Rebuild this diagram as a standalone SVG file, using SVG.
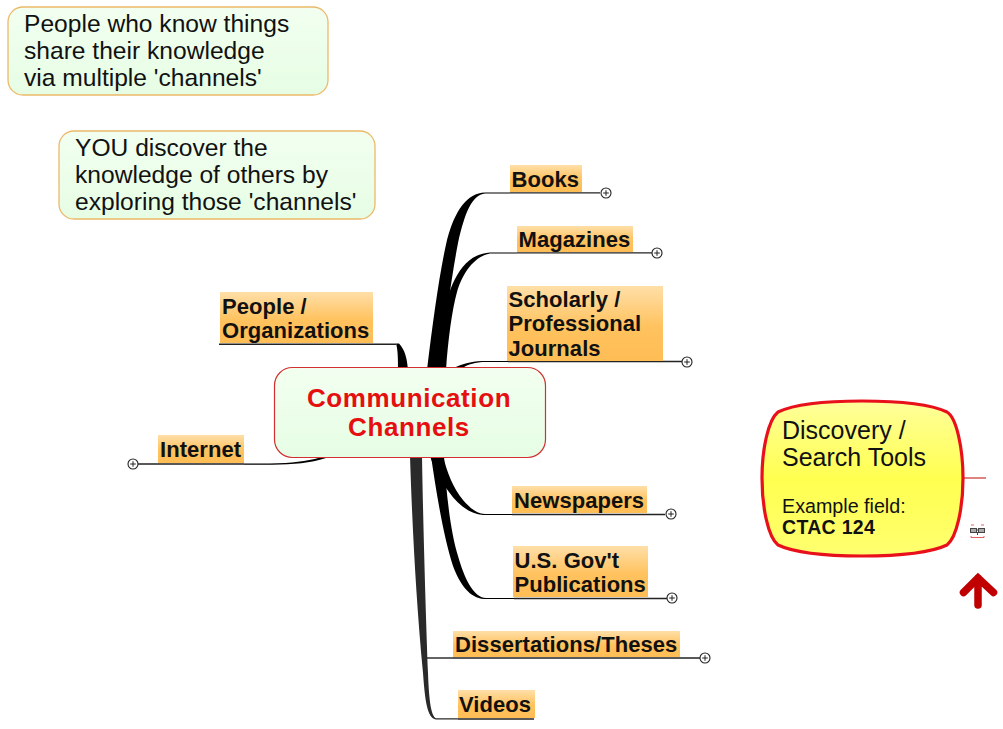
<svg xmlns="http://www.w3.org/2000/svg" width="1003" height="729" viewBox="0 0 1003 729">
<style>
text{font-family:"Liberation Sans",Arial,sans-serif;fill:#111}
.t{font-size:22px;font-weight:bold;letter-spacing:.05px}
.n{font-size:24.6px;font-weight:normal}
.c{font-size:26px;font-weight:bold;fill:#e60f0f;text-anchor:middle;letter-spacing:.6px}
.l{fill:none;stroke:#222;stroke-width:1.4}
.br{fill:#000}
.lab{fill:url(#o)}
.note{fill:url(#g);stroke:#ecb968;stroke-width:1.3}
.p circle{fill:#fff;stroke:#222;stroke-width:1.1}
.p path{stroke:#222;stroke-width:1;fill:none}
</style>
<defs>
<linearGradient id="o" x1="0" y1="0" x2="0" y2="1"><stop offset="0" stop-color="#ffdfa8"/><stop offset=".55" stop-color="#ffc25e"/><stop offset="1" stop-color="#ffbd55"/></linearGradient>
<linearGradient id="g" x1="0" y1="0" x2="0" y2="1"><stop offset="0" stop-color="#f2fff0"/><stop offset="1" stop-color="#e6fde4"/></linearGradient>
<linearGradient id="y" x1="0" y1="0" x2="0" y2="1"><stop offset="0" stop-color="#ffff9c"/><stop offset=".5" stop-color="#ffff50"/><stop offset="1" stop-color="#ffff70"/></linearGradient>
<g id="plus" class="p"><circle r="5"/><path d="M-2.800 0H2.800M0-2.800V2.800"/></g>
</defs>

<g id="connectors">
<path class="br" d="M427 370C433 320 440 270 447 240C455 210 467 193 485 192.400L510 192.400V193.500H485C472 195 465 212 458 243C452 275 445 320 442 370Z"/>
<path class="br" d="M443 317C448 290 460 254 490 252.400L517 252.400V253.500H490C475 256 463 272 457 292C452 310 448 340 446 370H440Z"/>
<path class="br" d="M454 368C462 364 470 361.500 482 361L508 361V362H482C472 363 466 365 460 370Z"/>
<path class="br" d="M396 343.500H399C405 350 407 358 408 370H398C398 360 398 350 396 343.500Z"/>
<path class="br" d="M430 456H443C447 472 453 488 463 500C470 508 476 513.500 485 514L512 514V515H483C470 514 458 505 449 492C440 480 434 468 430 456Z"/>
<path class="br" d="M431 456H444C446 490 450 530 458 556C464 577 473 597.500 486 598L514 598V599H484C470 598 460 585 453 566C443 535 436 490 431 456Z"/>
<path d="M410 456H422C423 520 426 620 428 673C429 700 431 716 436 718.300L458 718.300V719.500H436C427 718 425 700 423 673C416 600 412 520 410 456Z" fill="#2a2a2a"/>
<path class="l" d="M427 658H453"/>
<path class="br" d="M320 457.500C306 461.500 292 463 270 463.500H244V464.700H272C294 464.500 310 463 326 458Z"/>
<path class="l" d="M510 192.900H600"/>
<path class="l" d="M517 252.900H652"/>
<path class="l" d="M508 361.500H682"/>
<path class="l" d="M512 514.500H665"/>
<path class="l" d="M514 598.500H667"/>
<path class="l" d="M453 658H700"/>
<path class="l" d="M458 719H534"/>
<path class="l" d="M219 344.300H396"/>
<path class="l" d="M138 464H244"/>
<path d="M964 478H986" fill="none" stroke="#c83030" stroke-width="1.200"/>
</g>

<g id="note1"><rect class="note" x="8" y="7" width="320" height="88" rx="15"/>
<text class="n" x="24" y="32">People who know things</text><text class="n" x="24" y="59">share their knowledge</text><text class="n" x="24" y="86">via multiple 'channels'</text></g>
<g id="note2"><rect class="note" x="59" y="131" width="316" height="88" rx="15"/>
<text class="n" x="75" y="156">YOU discover the</text><text class="n" x="75" y="183">knowledge of others by</text><text class="n" x="75" y="210">exploring those 'channels'</text></g>

<g id="center"><rect x="274.500" y="367.500" width="271" height="90" rx="18" fill="url(#g)" stroke="#d23030" stroke-width="1.200"/>
<text class="c" x="409" y="407">Communication</text><text class="c" x="409" y="436">Channels</text></g>

<g id="books"><rect class="lab" x="510" y="165" width="72" height="27"/><text class="t" x="511.500" y="187">Books</text><use href="#plus" x="606" y="193"/></g>
<g id="magazines"><rect class="lab" x="517" y="226" width="116" height="26"/><text class="t" x="518.500" y="247">Magazines</text><use href="#plus" x="657" y="253"/></g>
<g id="journals"><rect class="lab" x="507" y="286" width="156" height="75"/><text class="t" x="508.500" y="307">Scholarly /</text><text class="t" x="508.500" y="331">Professional</text><text class="t" x="508.500" y="356">Journals</text><use href="#plus" x="687" y="362"/></g>
<g id="people"><rect class="lab" x="220" y="292" width="153" height="51"/><text class="t" x="222" y="314">People /</text><text class="t" x="222" y="338">Organizations</text></g>
<g id="internet"><rect class="lab" x="158" y="435" width="86" height="28"/><text class="t" x="160" y="457">Internet</text><use href="#plus" x="133" y="464"/></g>
<g id="newspapers"><rect class="lab" x="512" y="486" width="135" height="27"/><text class="t" x="514" y="508">Newspapers</text><use href="#plus" x="671" y="514"/></g>
<g id="gov"><rect class="lab" x="513" y="546" width="135" height="51"/><text class="t" x="514.500" y="568">U.S. Gov't</text><text class="t" x="514.500" y="592">Publications</text><use href="#plus" x="672" y="598"/></g>
<g id="theses"><rect class="lab" x="453" y="631" width="227" height="26"/><text class="t" x="455" y="652">Dissertations/Theses</text><use href="#plus" x="705" y="658"/></g>
<g id="videos"><rect class="lab" x="458" y="690" width="77" height="28"/><text class="t" x="459" y="712">Videos</text></g>

<g id="discovery"><path d="M862 401C900 401 930 404 947 412C957 418 963 450 963 478C963 507 957 537 947 545C930 553 900 556 862 556C825 556 795 553 778 545C768 537 762 507 762 478C762 450 768 420 778 412C795 404 825 401 862 401Z" fill="url(#y)" stroke="#e8101a" stroke-width="3.200"/>
<text x="782" y="439" font-size="25">Discovery /</text><text x="782" y="466" font-size="25">Search Tools</text><text x="782" y="513" font-size="19.700">Example field:</text><text x="782" y="534" font-size="19.500" font-weight="bold" letter-spacing=".3">CTAC 124</text></g>

<g id="icon"><path d="M971 525H974M981 525H984M971 536V537.500H984V536" fill="none" stroke="#e06060"/><rect x="970.500" y="528.500" width="6" height="4" fill="#aaa" stroke="#444"/><rect x="978.500" y="528.500" width="6" height="4" fill="#aaa" stroke="#444"/><path d="M976 530H979M977.500 532V535" stroke="#444"/></g>
<path id="arrow" d="M978 605V578M963.500 592.500L978 578L993.500 592.500" fill="none" stroke="#c00000" stroke-width="7.500" stroke-linecap="round" stroke-linejoin="miter"/>
</svg>
